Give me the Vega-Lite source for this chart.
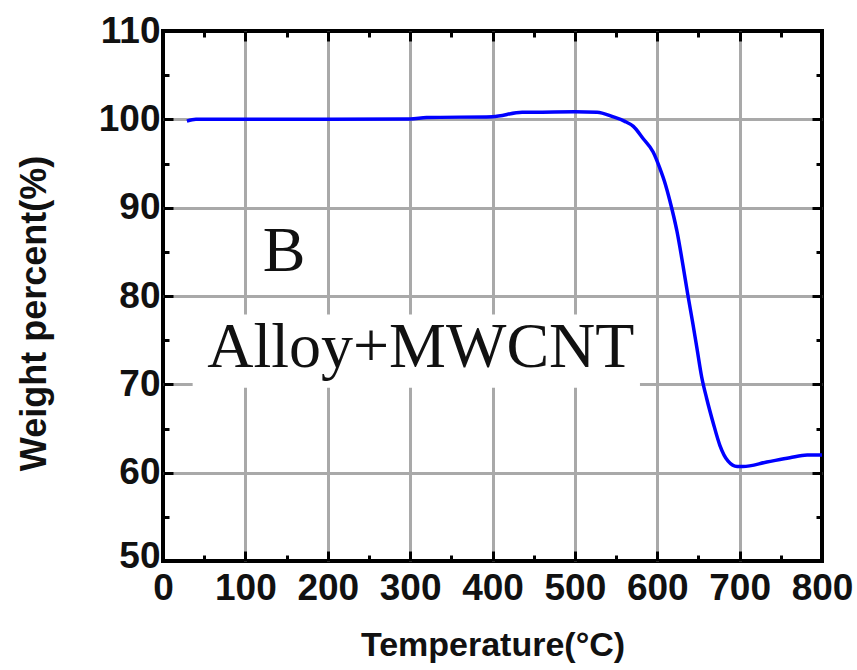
{
  "$schema": "https://vega.github.io/schema/vega-lite/v6.json",
  "width": 659,
  "height": 530,
  "autosize": {"type": "none"},
  "padding": {"left": 163, "top": 31, "right": 35, "bottom": 109},
  "background": "white",
  "config": {
    "view": {"stroke": "black", "strokeWidth": 4},
    "axis": {
      "domain": false,
      "tickColor": "black",
      "tickWidth": 3,
      "gridColor": "#a9a9a9",
      "gridWidth": 3,
      "labelFont": "Liberation Sans",
      "labelFontSize": 37,
      "labelFontWeight": "bold",
      "labelColor": "#111",
      "titleFont": "Liberation Sans",
      "titleFontSize": 34,
      "titleFontWeight": "bold",
      "titleColor": "#111"
    }
  },
  "datasets": {
    "tga": [
      {"temp": 29, "weight": 99.8},
      {"temp": 40, "weight": 100.0},
      {"temp": 100, "weight": 100.0},
      {"temp": 200, "weight": 100.0},
      {"temp": 300, "weight": 100.05},
      {"temp": 320, "weight": 100.2},
      {"temp": 400, "weight": 100.3},
      {"temp": 436, "weight": 100.8},
      {"temp": 450, "weight": 100.8},
      {"temp": 500, "weight": 100.85},
      {"temp": 527, "weight": 100.8},
      {"temp": 546, "weight": 100.3},
      {"temp": 560, "weight": 99.8},
      {"temp": 571, "weight": 99.2},
      {"temp": 583, "weight": 97.8},
      {"temp": 595, "weight": 96.3},
      {"temp": 603, "weight": 94.5},
      {"temp": 610, "weight": 92.6},
      {"temp": 615, "weight": 90.9},
      {"temp": 620, "weight": 89.0},
      {"temp": 624, "weight": 87.3},
      {"temp": 631, "weight": 83.6},
      {"temp": 637, "weight": 80.2},
      {"temp": 643, "weight": 77.0},
      {"temp": 648, "weight": 74.2},
      {"temp": 654, "weight": 70.8},
      {"temp": 660, "weight": 68.4},
      {"temp": 668, "weight": 65.6},
      {"temp": 676, "weight": 63.1},
      {"temp": 686, "weight": 61.3},
      {"temp": 697, "weight": 60.7},
      {"temp": 704, "weight": 60.7},
      {"temp": 733, "weight": 61.2},
      {"temp": 761, "weight": 61.7},
      {"temp": 782, "weight": 62.0},
      {"temp": 800, "weight": 62.0}
    ],
    "labels": [
      {"temp": 147, "weight": 82.8, "text": "B"},
      {"temp": 313, "weight": 72.0, "text": "Alloy+MWCNT"}
    ],
    "labelBox": [
      {"t0": 36, "t1": 579, "w0": 69.6, "w1": 77.9}
    ]
  },
  "resolve": {"axis": {"x": "independent", "y": "independent"}},
  "layer": [
    {
      "data": {"name": "labelBox"},
      "mark": {"type": "rect", "fill": "white"},
      "encoding": {
        "x": {"field": "t0", "type": "quantitative", "scale": {"domain": [0, 800]}, "axis": null},
        "x2": {"field": "t1"},
        "y": {"field": "w0", "type": "quantitative", "scale": {"domain": [50, 110]}, "axis": null},
        "y2": {"field": "w1"}
      }
    },
    {
      "data": {"name": "tga"},
      "mark": {"type": "line", "color": "#0000ff", "strokeWidth": 3.5, "interpolate": "monotone"},
      "encoding": {
        "x": {
          "field": "temp", "type": "quantitative",
          "scale": {"domain": [0, 800], "nice": false, "zero": false},
          "axis": {
            "orient": "bottom",
            "title": "Temperature(°C)",
            "titlePadding": 22,
            "values": [0, 50, 100, 150, 200, 250, 300, 350, 400, 450, 500, 550, 600, 650, 700, 750, 800],
            "labelExpr": "datum.value % 100 === 0 ? datum.label : ''",
            "labelPadding": 19,
            "labelFlush": false,
            "grid": true,
            "tickSize": {"condition": {"test": "datum.value % 100 === 0", "value": -10}, "value": -6},
            "gridOpacity": {"condition": {"test": "datum.value % 100 === 0 && datum.value > 0 && datum.value < 800", "value": 1}, "value": 0}
          }
        },
        "y": {
          "field": "weight", "type": "quantitative",
          "scale": {"domain": [50, 110], "nice": false, "zero": false},
          "axis": {
            "orient": "left",
            "title": "Weight percent(%)",
            "titleFontSize": 36,
            "titlePadding": 45,
            "titleY": 282,
            "values": [50, 55, 60, 65, 70, 75, 80, 85, 90, 95, 100, 105, 110],
            "labelExpr": "datum.value % 10 === 0 ? datum.label : ''",
            "labelPadding": 13,
            "labelOffset": {"condition": {"test": "datum.value === 50", "value": -5}, "value": 0},
            "labelFlush": false,
            "grid": true,
            "tickSize": {"condition": {"test": "datum.value % 10 === 0", "value": -10}, "value": -6},
            "gridOpacity": {"condition": {"test": "datum.value % 10 === 0 && datum.value > 50 && datum.value < 110", "value": 1}, "value": 0}
          }
        }
      }
    },
    {
      "data": {"name": "labels"},
      "mark": {"type": "text", "font": "Liberation Serif", "fontSize": 64, "align": "center", "baseline": "alphabetic", "color": "#111"},
      "encoding": {
        "x": {
          "field": "temp", "type": "quantitative",
          "scale": {"domain": [0, 800], "nice": false, "zero": false},
          "axis": {
            "orient": "top", "title": null, "labels": false, "grid": false,
            "values": [0, 50, 100, 150, 200, 250, 300, 350, 400, 450, 500, 550, 600, 650, 700, 750, 800],
            "tickSize": {"condition": {"test": "datum.value % 100 === 0", "value": -10}, "value": -6}
          }
        },
        "y": {
          "field": "weight", "type": "quantitative",
          "scale": {"domain": [50, 110], "nice": false, "zero": false},
          "axis": {
            "orient": "right", "title": null, "labels": false, "grid": false,
            "values": [50, 55, 60, 65, 70, 75, 80, 85, 90, 95, 100, 105, 110],
            "tickSize": {"condition": {"test": "datum.value % 10 === 0", "value": -10}, "value": -6}
          }
        },
        "text": {"field": "text"}
      }
    }
  ]
}
